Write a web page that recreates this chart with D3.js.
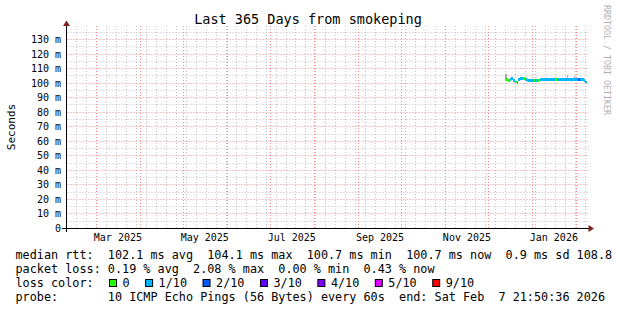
<!DOCTYPE html>
<html><head><meta charset="utf-8">
<script src="https://cdn.jsdelivr.net/npm/d3@7/dist/d3.min.js"></script>
<style>
html,body{margin:0;padding:0;background:#fff;}
svg{display:block;}
text{font-family:"DejaVu Sans Mono",monospace;fill:#000;}
</style></head><body>
<svg id="c" width="617" height="310"></svg>
<script>
// ---------- data ----------
const title = "Last 365 Days from smokeping";
const yAxisLabel = "Seconds";
const watermark = "RRDTOOL / TOBI OETIKER";
const endTime = "2026-02-07T21:50:36Z";
const rangeDays = 365;
const yMaxMs = 139.3;
const yTickValues = [0,10,20,30,40,50,60,70,80,90,100,110,120,130];
const yMinorValues = [5,15,25,35,45,55,65,75,85,95,105,115,125,135];
const firstDataDay = "2025-12-13";
// daily median rtt (ms)
const medianMs = [102.3,102.2,101.9,102.6,102.9,101.9,101.5,100.8,100.7,102.3,
                  103.2,103.3,103.2,103.0,102.4,102.1,101.8,101.9,101.7,101.8,
                  101.9,101.8,101.7,101.8,102.2,102.3,102.2,102.2,102.3,102.2,
                  102.2,102.3,102.2,102.2,102.2,102.2,102.3,102.2,102.2,102.3,
                  102.2,102.2,102.2,102.3,102.2,102.2,102.3,102.2,102.3,102.3,
                  102.3,102.2,102.4,102.4,102.4,101.8,100.8];
// loss colour class per day (index into lossLabels)
const lossLevel = [0,0,0,1,1,1,1,0,1,1,
                   1,1,0,0,1,1,1,1,1,1,
                   0,1,1,0,1,1,1,1,1,1,
                   1,1,1,1,1,0,1,1,1,1,
                   1,1,1,1,1,1,1,1,1,1,
                   1,2,1,1,1,1,1];
// daily max ping (smoke top, ms)
const smokeHighMs = [106.0,102.6,102.3,103.8,103.2,102.3,101.9,101.2,101.1,102.9,
                     103.6,103.7,103.6,103.4,102.8,102.5,102.2,102.3,102.1,102.2,
                     102.3,102.2,102.1,102.2,102.6,102.7,102.6,102.6,102.7,102.6,
                     102.6,102.7,102.6,102.6,102.6,102.6,102.7,102.6,102.6,102.7,
                     102.6,102.6,102.6,105.3,102.6,102.6,102.7,102.6,104.6,102.7,
                     102.7,103.6,102.8,102.8,102.8,102.2,101.2];
const lossLabels = ["0","1/10","2/10","3/10","4/10","5/10","9/10"];
const lossColors = ["#26ff00","#00b8ff","#0059ff","#5e00ff","#7e00ff","#dd00ff","#ff0000"];
const legendRtt = "median rtt:  102.1 ms avg  104.1 ms max  100.7 ms min  100.7 ms now  0.9 ms sd 108.8";
const legendLoss = "packet loss: 0.19 % avg  2.08 % max  0.00 % min  0.43 % now";
const legendLossTitle = "loss color:";
const legendProbe = "probe:       10 ICMP Echo Pings (56 Bytes) every 60s  end: Sat Feb  7 21:50:36 2026";

// ---------- layout ----------
const svg = d3.select("#c");
const L = 66.5, R = 586.5, T = 26, B = 228.5;
const end = new Date(endTime);
const start = d3.utcDay.offset(end, -rangeDays);
const x = d3.scaleUtc().domain([start, end]).range([L, R]);
const y = d3.scaleLinear().domain([0, yMaxMs]).range([B, T]);
const px = v => Math.round(v - 0.5) + 0.5;

// grid
const g = svg.append("g");
const weeks = d3.utcSaturday.range(start, end);
const months = d3.utcMonth.range(start, end);
const minorCol = "#c4c4c4", majorCol = "#f08a8a", dash = "1,2";
g.selectAll(".vmin").data(weeks).join("line")
  .attr("x1", d => px(x(d))).attr("x2", d => px(x(d)))
  .attr("y1", T).attr("y2", B)
  .attr("stroke", minorCol).attr("stroke-dasharray", dash);
g.selectAll(".hmin").data(yMinorValues.filter(v => v < yMaxMs)).join("line")
  .attr("x1", L + 1).attr("x2", 588)
  .attr("y1", d => px(y(d))).attr("y2", d => px(y(d)))
  .attr("stroke", minorCol).attr("stroke-dasharray", dash);
g.selectAll(".vmaj").data(months).join("line")
  .attr("x1", d => px(x(d))).attr("x2", d => px(x(d)))
  .attr("y1", T).attr("y2", B)
  .attr("stroke", majorCol).attr("stroke-dasharray", dash);
g.selectAll(".hmaj").data(yTickValues.filter(v => v > 0)).join("line")
  .attr("x1", L + 1).attr("x2", 588)
  .attr("y1", d => px(y(d))).attr("y2", d => px(y(d)))
  .attr("stroke", majorCol).attr("stroke-dasharray", dash);

// data: smoke and median band
const days = d3.utcDay.range(new Date(firstDataDay + "T00:00:00Z"), end);
const n = Math.min(days.length, medianMs.length);
const data = d3.range(n).map(i => ({
  t0: days[i], t1: i + 1 < days.length ? days[i + 1] : end,
  m: medianMs[i], loss: lossLevel[i], hi: smokeHighMs[i]
}));
const dg = svg.append("g").attr("shape-rendering", "crispEdges");
dg.selectAll(".smoke").data(data).join("rect")
  .attr("x", d => x(d.t0)).attr("width", d => x(d.t1) - x(d.t0))
  .attr("y", d => y(d.hi)).attr("height", d => Math.max(0, y(d.m) - y(d.hi)))
  .attr("fill", d => d.hi - d.m > 2 ? "#a8a8a8" : "#303030");
const sw = 1.0;
dg.selectAll(".med").data(data).join("rect")
  .attr("x", d => x(d.t0)).attr("width", d => x(d.t1) - x(d.t0))
  .attr("y", d => y(d.m + sw)).attr("height", d => y(d.m - sw) - y(d.m + sw))
  .attr("fill", d => lossColors[d.loss]);

// axes
const ax = svg.append("g").attr("shape-rendering", "crispEdges");
ax.append("line").attr("x1", 62).attr("x2", 590).attr("y1", B).attr("y2", B).attr("stroke", "#000");
ax.append("line").attr("x1", px(L)).attr("x2", px(L)).attr("y1", 232).attr("y2", 25).attr("stroke", "#000");
svg.append("path").attr("d", `M${px(L)},20.5 L${px(L)-3.5},26 L${px(L)+3.5},26 Z`).attr("fill", "#7f1f1f");
svg.append("path").attr("d", `M594,${B} L588.5,${B-3.5} L588.5,${B+3.5} Z`).attr("fill", "#7f1f1f");

// y tick labels
svg.selectAll(".ylab").data(yTickValues).join("text")
  .attr("x", 61).attr("y", d => y(d) + 3.5)
  .attr("text-anchor", "end").attr("font-size", "10px")
  .text(d => d === 0 ? "0" : d + " m");

// x labels (every second month, centred mid-month)
const labelMonths = months.filter(d => d.getUTCMonth() % 2 === 0);
svg.selectAll(".xlab").data(labelMonths).join("text")
  .attr("x", d => x(d3.utcDay.offset(d, 15))).attr("y", 241)
  .attr("text-anchor", "middle").attr("font-size", "10px")
  .text(d => d3.utcFormat("%b %Y")(d));

// title
svg.append("text").attr("x", 308).attr("y", 24).attr("text-anchor", "middle")
  .attr("font-size", "13.5px").text(title);
// y axis label
svg.append("text").attr("transform", "translate(15,127) rotate(-90)")
  .attr("text-anchor", "middle").attr("font-size", "11px").text(yAxisLabel);
// watermark
svg.append("text").attr("transform", "translate(604,5) rotate(90)")
  .attr("font-size", "8.3px").style("fill", "#b0b0b0").text(watermark);

// legend
const lf = "11.8px";
const lx = 15.5;
[[legendRtt, 259], [legendLoss, 273], [legendProbe, 301]].forEach(([t, yy]) => {
  svg.append("text").attr("x", lx).attr("y", yy).attr("font-size", lf)
    .style("white-space", "pre").attr("xml:space", "preserve").text(t);
});
svg.append("text").attr("x", lx).attr("y", 287).attr("font-size", lf).text(legendLossTitle);
let cx = 109;
lossLabels.forEach((lab, i) => {
  svg.append("rect").attr("x", cx + 0.5).attr("y", 279.5).attr("width", 7).attr("height", 7)
    .attr("fill", lossColors[i]).attr("stroke", "#000").attr("stroke-width", 1);
  const t = svg.append("text").attr("x", cx + 13.5).attr("y", 287).attr("font-size", lf).text(lab);
  cx = cx + 13.5 + t.node().getComputedTextLength() + 15.5;
});
</script></body></html>
